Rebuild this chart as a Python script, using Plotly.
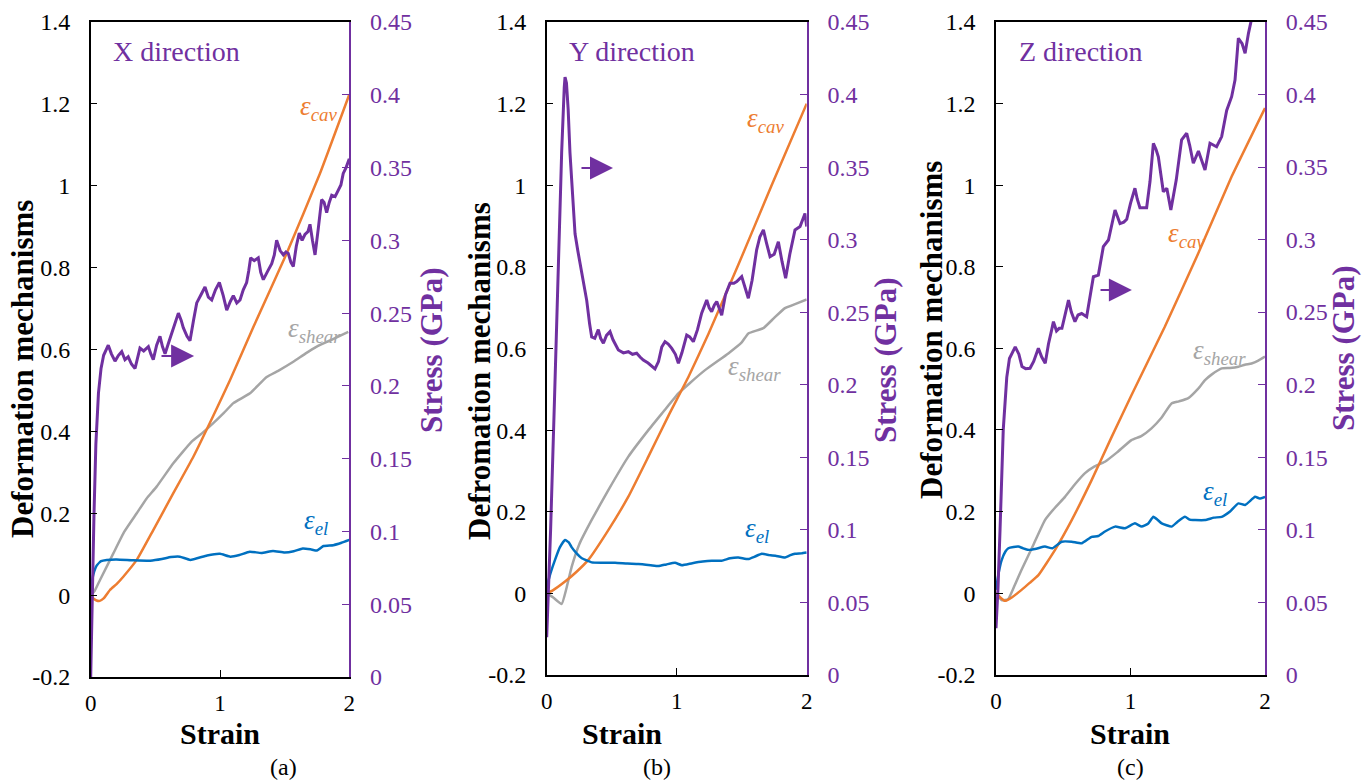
import plotly.graph_objects as go

# ---------------- data ----------------
# (a) X direction
a_stress_strain = [0, 0.01, 0.025, 0.04, 0.06, 0.08, 0.1, 0.136, 0.16, 0.188, 0.215, 0.24, 0.265, 0.29,
                   0.315, 0.343, 0.365, 0.381, 0.41, 0.446, 0.465, 0.484, 0.51, 0.536, 0.555, 0.575, 0.6,
                   0.626, 0.655, 0.678, 0.7, 0.716, 0.745, 0.768, 0.795, 0.82, 0.855, 0.884, 0.91, 0.936,
                   0.965, 0.995, 1.025, 1.052, 1.08, 1.103, 1.13, 1.155, 1.18, 1.206, 1.222, 1.237, 1.265,
                   1.296, 1.315, 1.335, 1.37, 1.40, 1.42, 1.438, 1.465, 1.49, 1.51, 1.528, 1.548, 1.567,
                   1.59, 1.613, 1.635, 1.657, 1.68, 1.696, 1.715, 1.735, 1.76, 1.786, 1.805, 1.825, 1.845,
                   1.864, 1.89, 1.915, 1.935, 1.953, 1.975, 2.0]
a_stress = [0.0, 0.05, 0.11, 0.16, 0.195, 0.212, 0.221, 0.228, 0.222, 0.217, 0.221, 0.2235, 0.218, 0.220,
            0.215, 0.212, 0.22, 0.226, 0.224, 0.227, 0.222, 0.218, 0.228, 0.234, 0.227, 0.222, 0.229,
            0.236, 0.243, 0.250, 0.245, 0.240, 0.234, 0.231, 0.245, 0.257, 0.263, 0.268, 0.261, 0.259,
            0.266, 0.271, 0.262, 0.252, 0.258, 0.262, 0.257, 0.259, 0.266, 0.271, 0.279, 0.288, 0.286,
            0.288, 0.278, 0.273, 0.279, 0.284, 0.290, 0.300, 0.293, 0.290, 0.292, 0.291, 0.285, 0.282,
            0.296, 0.305, 0.300, 0.304, 0.306, 0.311, 0.300, 0.290, 0.308, 0.328, 0.326, 0.319, 0.326,
            0.331, 0.330, 0.335, 0.338, 0.346, 0.350, 0.356]

a_cav_strain = [0, 0.02, 0.045, 0.07, 0.1, 0.149, 0.2, 0.252, 0.356, 0.484, 0.639, 0.794, 0.948, 1.077,
                1.258, 1.516, 1.773, 2.0]
a_cav = [0, -0.008, -0.013, -0.014, -0.008, 0.0125, 0.027, 0.045, 0.086, 0.159, 0.249, 0.338, 0.438, 0.525,
         0.655, 0.835, 1.03, 1.223]

a_shear_strain = [0, 0.03, 0.072, 0.175, 0.26, 0.356, 0.43, 0.51, 0.639, 0.781, 0.86, 0.948, 1.03, 1.103,
                  1.232, 1.361, 1.45, 1.567, 1.66, 1.748, 1.87, 1.992]
a_shear = [0, 0.01, 0.037, 0.102, 0.155, 0.2, 0.235, 0.265, 0.322, 0.375, 0.395, 0.42, 0.445, 0.469,
           0.493, 0.533, 0.548, 0.57, 0.59, 0.607, 0.625, 0.643]

a_el_strain = [0, 0.02, 0.046, 0.08, 0.124, 0.2, 0.33, 0.46, 0.55, 0.62, 0.69, 0.77, 0.9, 1.0, 1.08, 1.15,
               1.23, 1.32, 1.41, 1.5, 1.57, 1.64, 1.7, 1.75, 1.8, 1.876, 1.94, 2.0]
a_el = [0.012, 0.05, 0.072, 0.083, 0.086, 0.087, 0.085, 0.084, 0.088, 0.093, 0.094, 0.086, 0.097, 0.101,
        0.094, 0.098, 0.106, 0.103, 0.108, 0.104, 0.107, 0.114, 0.112, 0.109, 0.12, 0.122, 0.128, 0.135]

# (b) Y direction
b_stress_strain = [0, 0.03, 0.06, 0.09, 0.115, 0.135, 0.141, 0.152, 0.165, 0.179, 0.2, 0.218, 0.24, 0.269,
                   0.29, 0.308, 0.33, 0.346, 0.37, 0.397, 0.415, 0.436, 0.46, 0.487, 0.51, 0.53, 0.551,
                   0.59, 0.628, 0.66, 0.692, 0.72, 0.743, 0.78, 0.833, 0.86, 0.885, 0.91, 0.935, 0.962,
                   0.99, 1.013, 1.04, 1.077, 1.1, 1.128, 1.16, 1.192, 1.231, 1.25, 1.269, 1.29, 1.308,
                   1.33, 1.346, 1.375, 1.41, 1.44, 1.462, 1.5, 1.52, 1.551, 1.58, 1.615, 1.64, 1.667,
                   1.69, 1.718, 1.75, 1.782, 1.81, 1.838, 1.87, 1.91, 1.949, 1.987, 2.0]
b_stress = [0.026, 0.10, 0.19, 0.29, 0.36, 0.405, 0.412, 0.408, 0.39, 0.36, 0.325, 0.304, 0.292, 0.277,
            0.268, 0.258, 0.242, 0.233, 0.232, 0.238, 0.232, 0.2286, 0.234, 0.2366, 0.231, 0.228, 0.224,
            0.222, 0.2228, 0.221, 0.2217, 0.219, 0.217, 0.215, 0.211, 0.216, 0.226, 0.2297, 0.228, 0.2251,
            0.221, 0.2148, 0.222, 0.2343, 0.233, 0.2297, 0.238, 0.2493, 0.2584, 0.253, 0.2504, 0.255, 0.2573,
            0.252, 0.248, 0.262, 0.27, 0.27, 0.2711, 0.2745, 0.268, 0.2596, 0.272, 0.293, 0.302, 0.3067,
            0.298, 0.2883, 0.29, 0.2986, 0.285, 0.2734, 0.29, 0.3067, 0.309, 0.318, 0.309]

b_cav_strain = [0, 0.05, 0.141, 0.23, 0.32, 0.474, 0.628, 0.782, 0.936, 1.09, 1.243, 1.474, 1.728, 2.0]
b_cav = [0.0, 0.008, 0.029, 0.053, 0.082, 0.155, 0.237, 0.335, 0.435, 0.53, 0.635, 0.805, 0.998, 1.2]

b_shear_strain = [0, 0.05, 0.115, 0.15, 0.192, 0.25, 0.346, 0.474, 0.628, 0.782, 0.897, 1.013, 1.1, 1.218,
                  1.397, 1.5, 1.551, 1.667, 1.75, 1.833, 1.92, 2.0]
b_shear = [0.0, -0.01, -0.026, 0.01, 0.065, 0.12, 0.18, 0.253, 0.335, 0.4, 0.445, 0.49, 0.515, 0.547,
           0.588, 0.615, 0.637, 0.65, 0.675, 0.699, 0.71, 0.72]

b_el_strain = [0, 0.03, 0.064, 0.1, 0.141, 0.17, 0.19, 0.23, 0.27, 0.346, 0.43, 0.526, 0.62, 0.705, 0.8,
               0.859, 0.92, 0.987, 1.04, 1.12, 1.2, 1.27, 1.346, 1.41, 1.474, 1.551, 1.6, 1.654, 1.71,
               1.76, 1.833, 1.87, 1.91, 1.96, 2.0]
b_el = [0.016, 0.05, 0.082, 0.112, 0.131, 0.125, 0.114, 0.098, 0.086, 0.076, 0.075, 0.075, 0.073, 0.072,
        0.069, 0.067, 0.071, 0.075, 0.069, 0.074, 0.078, 0.08, 0.08, 0.086, 0.088, 0.084, 0.09, 0.097,
        0.094, 0.092, 0.088, 0.093, 0.097, 0.098, 0.1]

# (c) Z direction
c_stress_strain = [0, 0.015, 0.03, 0.054, 0.08, 0.1, 0.143, 0.17, 0.193, 0.22, 0.253, 0.28, 0.315, 0.34,
                   0.366, 0.39, 0.414, 0.427, 0.45, 0.47, 0.49, 0.515, 0.539, 0.56, 0.587, 0.61, 0.637,
                   0.674, 0.7, 0.724, 0.761, 0.798, 0.836, 0.86, 0.885, 0.922, 0.95, 0.972, 1.0, 1.033,
                   1.05, 1.07, 1.12, 1.145, 1.17, 1.19, 1.207, 1.244, 1.27, 1.3, 1.34, 1.38, 1.418, 1.44,
                   1.467, 1.505, 1.554, 1.591, 1.64, 1.678, 1.715, 1.752, 1.777, 1.79, 1.802, 1.83, 1.852,
                   1.877, 1.897, 1.93]
c_stress = [0.032, 0.06, 0.10, 0.169, 0.205, 0.218, 0.226, 0.221, 0.2124, 0.211, 0.2113, 0.216, 0.225, 0.219,
            0.2147, 0.228, 0.2377, 0.2434, 0.237, 0.2388, 0.2388, 0.25, 0.2583, 0.25, 0.2434, 0.248, 0.249,
            0.2468, 0.26, 0.2744, 0.2755, 0.2951, 0.2997, 0.31, 0.3204, 0.311, 0.312, 0.314, 0.325, 0.3354,
            0.328, 0.322, 0.322, 0.34, 0.3664, 0.362, 0.357, 0.333, 0.3354, 0.3204, 0.341, 0.3687, 0.3733,
            0.365, 0.3526, 0.361, 0.348, 0.3664, 0.364, 0.371, 0.389, 0.3985, 0.41, 0.425, 0.4388, 0.435,
            0.4284, 0.4422, 0.451, 0.465]

c_cav_strain = [0, 0.03, 0.067, 0.12, 0.19, 0.25, 0.315, 0.439, 0.563, 0.711, 0.86, 1.007, 1.255, 1.504,
                1.752, 2.0]
c_cav = [0, -0.01, -0.019, -0.01, 0.008, 0.025, 0.044, 0.106, 0.179, 0.277, 0.383, 0.485, 0.653, 0.833,
         1.021, 1.189]

c_shear_strain = [0, 0.042, 0.09, 0.14, 0.19, 0.28, 0.364, 0.44, 0.513, 0.59, 0.662, 0.73, 0.81, 0.9, 1.007,
                  1.08, 1.156, 1.23, 1.305, 1.36, 1.43, 1.5, 1.554, 1.6, 1.678, 1.74, 1.802, 1.85, 1.9,
                  1.95, 2.0]
c_shear = [0.0, -0.017, -0.015, 0.02, 0.057, 0.12, 0.179, 0.21, 0.236, 0.268, 0.294, 0.31, 0.322, 0.345,
           0.375, 0.385, 0.404, 0.43, 0.465, 0.47, 0.478, 0.5, 0.522, 0.535, 0.551, 0.552, 0.555, 0.56,
           0.563, 0.57, 0.58]

c_el_strain = [0, 0.02, 0.042, 0.07, 0.092, 0.13, 0.166, 0.2, 0.24, 0.3, 0.364, 0.42, 0.488, 0.563, 0.637,
               0.711, 0.76, 0.81, 0.885, 0.96, 1.033, 1.083, 1.13, 1.17, 1.2, 1.232, 1.305, 1.35, 1.405,
               1.44, 1.48, 1.554, 1.62, 1.678, 1.74, 1.802, 1.852, 1.926, 1.96, 2.0]
c_el = [0.008, 0.05, 0.081, 0.102, 0.11, 0.113, 0.114, 0.11, 0.106, 0.109, 0.114, 0.11, 0.126, 0.126, 0.122,
        0.138, 0.14, 0.151, 0.163, 0.159, 0.171, 0.163, 0.17, 0.187, 0.18, 0.171, 0.163, 0.175, 0.187,
        0.18, 0.179, 0.179, 0.185, 0.187, 0.2, 0.22, 0.216, 0.236, 0.232, 0.236]

# axis ticks
strain_ticks = [0, 1, 2]
mech_ticks = [-0.2, 0, 0.2, 0.4, 0.6, 0.8, 1.0, 1.2, 1.4]
mech_labels = ["-0.2", "0", "0.2", "0.4", "0.6", "0.8", "1", "1.2", "1.4"]
stress_ticks = [0, 0.05, 0.1, 0.15, 0.2, 0.25, 0.3, 0.35, 0.4, 0.45]
stress_labels = ["0", "0.05", "0.1", "0.15", "0.2", "0.25", "0.3", "0.35", "0.4", "0.45"]

directions = ["X direction", "Y direction", "Z direction"]
captions = ["(a)", "(b)", "(c)"]
left_titles = ["Deformation mechanisms", "Defromation mechanisms", "Deformation mechanisms"]

# ---------------- styling ----------------
W, H = 1369, 780
FONT = "Liberation Serif, Times New Roman, serif"
PURPLE = "#7030A0"
ORANGE = "#ED7D31"
GRAY = "#A5A5A5"
BLUE = "#0070C0"

panels = [
    dict(stress=(a_stress_strain, a_stress), cav=(a_cav_strain, a_cav), shear=(a_shear_strain, a_shear),
         el=(a_el_strain, a_el), px=(90.7, 349.3), bottom=677,
         cav_lbl=(1.76, 1.19), shear_lbl=(1.73, 0.647), el_lbl=(1.745, 0.178),
         arrow=(0.536, 0.80, 0.584), left_x=22, left_y=369, right_x=432, right_y=350,
         strain_x=220, cap_x=283),
    dict(stress=(b_stress_strain, b_stress), cav=(b_cav_strain, b_cav), shear=(b_shear_strain, b_shear),
         el=(b_el_strain, b_el), px=(546.7, 806.7), bottom=675,
         cav_lbl=(1.68, 1.16), shear_lbl=(1.6, 0.552), el_lbl=(1.615, 0.155),
         arrow=(0.256, 0.51, 1.042), left_x=479, left_y=371, right_x=885, right_y=360,
         strain_x=622, cap_x=657),
    dict(stress=(c_stress_strain, c_stress), cav=(c_cav_strain, c_cav), shear=(c_shear_strain, c_shear),
         el=(c_el_strain, c_el), px=(996, 1265), bottom=674.7,
         cav_lbl=(1.418, 0.878), shear_lbl=(1.665, 0.592), el_lbl=(1.628, 0.245),
         arrow=(0.766, 1.01, 0.743), left_x=931, left_y=330, right_x=1343, right_y=348,
         strain_x=1130, cap_x=1130),
]

TOP = 22
fig = go.Figure()
annotations = []
layout = dict(width=W, height=H, margin=dict(l=0, r=0, t=0, b=0, autoexpand=False),
              paper_bgcolor="white", plot_bgcolor="white", showlegend=False,
              font=dict(family=FONT, color="black"))


def paper_text(px, py, text, size, color, angle=0):
    """Centered text placed at a pixel position of the figure."""
    return dict(x=px / W, y=1 - py / H, xref="paper", yref="paper", xanchor="center",
                yanchor="middle", showarrow=False, textangle=angle, text=text,
                font=dict(family=FONT, size=size, color=color))


for i, p in enumerate(panels):
    n = i + 1
    xa = "x" if n == 1 else f"x{n}"
    yl = "y" if n == 1 else f"y{n}"
    yr = f"y{n + 3}"
    xkey = "xaxis" if n == 1 else f"xaxis{n}"
    ylkey = "yaxis" if n == 1 else f"yaxis{n}"
    yrkey = f"yaxis{n + 3}"

    x0, x1 = p["px"][0] / W, p["px"][1] / W
    y0, y1 = 1 - p["bottom"] / H, 1 - TOP / H

    layout[xkey] = dict(domain=[x0, x1], anchor=yl, range=[0, 2], tickvals=strain_ticks,
                        ticktext=[str(v) for v in strain_ticks], ticks="inside", ticklen=7,
                        tickcolor="black", showline=True, linecolor="black", linewidth=1.5,
                        mirror=True, showgrid=False, zeroline=False, ticklabelstandoff=5,
                        tickfont=dict(family=FONT, size=23, color="black"))
    layout[ylkey] = dict(domain=[y0, y1], anchor=xa, range=[-0.2, 1.4], tickvals=mech_ticks,
                         ticktext=mech_labels, ticks="inside", ticklen=7, tickcolor="black",
                         showline=True, linecolor="black", linewidth=1.5, showgrid=False,
                         zeroline=False, ticklabelstandoff=14,
                         tickfont=dict(family=FONT, size=24, color="black"))
    layout[yrkey] = dict(overlaying=yl, anchor=xa, side="right", range=[0, 0.45],
                         tickvals=stress_ticks, ticktext=stress_labels, ticks="inside", ticklen=7,
                         tickcolor=PURPLE, showline=True, linecolor=PURPLE, linewidth=2,
                         showgrid=False, zeroline=False, ticklabelstandoff=14,
                         tickfont=dict(family=FONT, size=24, color=PURPLE))

    # deformation mechanism curves (left axis)
    for key, col in (("shear", GRAY), ("cav", ORANGE), ("el", BLUE)):
        sx, sy = p[key]
        fig.add_trace(go.Scatter(x=sx, y=sy, mode="lines", xaxis=xa, yaxis=yl,
                                 line=dict(color=col, width=2.5, shape="spline", smoothing=0.4),
                                 hoverinfo="skip"))
    # stress curve (right axis)
    sx, sy = p["stress"]
    fig.add_trace(go.Scatter(x=sx, y=sy, mode="lines", xaxis=xa, yaxis=yr,
                             line=dict(color=PURPLE, width=3), hoverinfo="skip"))

    # curve labels
    for key, col, sub in (("cav_lbl", ORANGE, "cav"), ("shear_lbl", GRAY, "shear"), ("el_lbl", BLUE, "el")):
        lx, ly = p[key]
        annotations.append(dict(x=lx, y=ly, xref=xa, yref=yl, xanchor="center", yanchor="middle",
                                showarrow=False, text=f"<i>ε<sub>{sub}</sub></i>",
                                font=dict(family=FONT, size=27, color=col)))

    # direction title inside panel
    annotations.append(dict(x=0.155, y=1.327, xref=xa, yref=yl, xanchor="left", yanchor="middle",
                            showarrow=False, text=directions[i],
                            font=dict(family=FONT, size=28, color=PURPLE)))

    # arrow pointing to the stress axis
    tail, head, ay = p["arrow"]
    annotations.append(dict(x=head, y=ay, ax=tail, ay=ay, xref=xa, yref=yl, axref=xa, ayref=yl,
                            showarrow=True, text="", arrowhead=2, arrowsize=2.3, arrowwidth=2,
                            arrowcolor=PURPLE, standoff=0, startstandoff=0))

    # axis titles and caption
    annotations.append(paper_text(p["left_x"], p["left_y"], f"<b>{left_titles[i]}</b>", 31, "black", -90))
    annotations.append(paper_text(p["right_x"], p["right_y"], "<b>Stress (GPa)</b>", 31, PURPLE, -90))
    annotations.append(paper_text(p["strain_x"], 733, "<b>Strain</b>", 30, "black"))
    annotations.append(paper_text(p["cap_x"], 767, captions[i], 24, "black"))

layout["annotations"] = annotations
fig.update_layout(**layout)
fig.write_html("out.html")
